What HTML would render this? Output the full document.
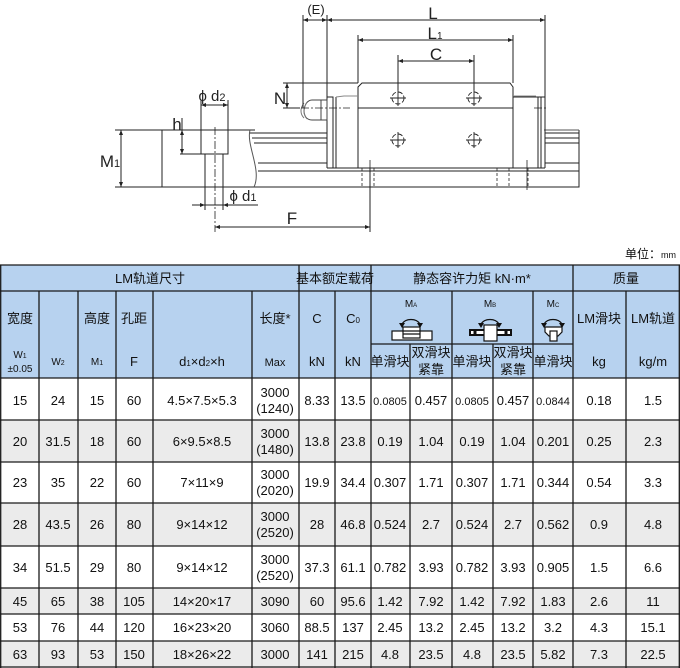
<!DOCTYPE html>
<html><head><meta charset="utf-8"><style>
html,body{margin:0;padding:0;background:#fff;}
svg{display:block;}
text{font-family:"Liberation Sans","Noto Sans CJK SC",sans-serif;fill:#111;}
.t{font-size:13px;text-anchor:middle;}
.s{font-size:10px;text-anchor:middle;}
.d{font-size:17px;text-anchor:middle;fill:#222;}
</style></head><body>
<svg width="680" height="668" viewBox="0 0 680 668" xmlns="http://www.w3.org/2000/svg">
<g stroke="#222" stroke-width="1" fill="none">
 <path d="M255,130 L162,130 L162,187 L579,187 L579,130"/>
 <path d="M250,130 C246,145 262,170 254,187" stroke="#555"/>
 <path d="M250,133 H327 M252,138 H327 M254,143 H327 M258,163 H327 M258,171 H579 M545,133 H579 M545,138 H579 M545,143 H579 M545,163 H579" stroke-width="0.9"/>
 <path d="M544,130 H579" stroke="#555"/>
 <path d="M201,130 V154 H228 V130 M205,154 V187 M223,154 V187"/>
 <path d="M215,127 V232" stroke-dasharray="8,2,2,2" stroke-width="0.8"/>
 <path d="M182,118 V154 M180,154 H201"/>
 <path d="M201,100 V130 M228,100 V130 M201,105 H228"/>
 <path d="M115,130 H162 M115,187 H162 M121,130 V187"/>
 <path d="M205,187 V210 M223,187 V210 M192,205 H258"/>
 <path d="M215,227 H370 M370,168 V232"/>
 <path d="M358,168 V87 L362,83 H510 L513,87 V168 Z"/>
 <path d="M358,108 H513"/>
 <path d="M327,168 V97 H333 V168 M336,97 V168 M327,168 H545 M513,97 H545 V168 M538,97 V168 M541,97 V168"/>
 <path d="M336,97 L344,96 H358 M513,96 H536" stroke="#888"/>
 <path d="M327,120 V125 M545,120 V128"/>
 <path d="M327,100 H312 C303,100 300,120 312,120 H327" stroke="#444"/>
 <path d="M304,103 C300,108 300,114 304,118 M307,102 C303,108 303,114 307,119" stroke="#777"/>
 <rect x="321" y="100" width="6" height="20" stroke="#444"/>
 <path d="M287,108 H350 M534,108 H548" stroke-dasharray="8,2,2,2" stroke-width="0.8"/>
 <path d="M362,168 V187 M374,168 V187 M497,168 V187 M509,168 V187 M528,168 V187" stroke-dasharray="3,2" stroke-width="0.8"/>
 <path d="M370,160 V195 M527,160 V190" stroke-width="0.8"/>
 <path d="M303,15 V108 M327,15 V97 M545,15 V118 M303,20 H545"/>
 <path d="M358,35 V83 M513,35 V83 M358,40 H513"/>
 <path d="M398,55 V90 M474,55 V90 M398,61 H474"/>
 <path d="M283,83 H358 M283,108 H300 M287,83 V108"/>
 <g stroke-width="0.9">
  <circle cx="398" cy="98" r="6" stroke-dasharray="5,2"/><path d="M390,98 H406 M398,90 V106"/>
  <circle cx="474" cy="98" r="6" stroke-dasharray="5,2"/><path d="M466,98 H482 M474,90 V106"/>
  <circle cx="398" cy="140" r="6" stroke-dasharray="5,2"/><path d="M390,140 H406 M398,132 V148"/>
  <circle cx="474" cy="140" r="6" stroke-dasharray="5,2"/><path d="M466,140 H482 M474,132 V148"/>
 </g>
</g>
<g fill="#222">
 <path d="M303,20 l5,-2 v4z M327,20 l-5,-2 v4z M327,20 l5,-2 v4z M545,20 l-5,-2 v4z"/>
 <path d="M358,40 l5,-2 v4z M513,40 l-5,-2 v4z M398,61 l5,-2 v4z M474,61 l-5,-2 v4z"/>
 <path d="M287,83 l-2,5 h4z M287,108 l-2,-5 h4z M121,130 l-2,5 h4z M121,187 l-2,-5 h4z"/>
 <path d="M182,130 l-2,5 h4z M182,154 l-2,-5 h4z M201,105 l5,-2 v4z M228,105 l-5,-2 v4z"/>
 <path d="M205,205 l-5,-2 v4z M223,205 l5,-2 v4z M215,227 l5,-2 v4z M370,227 l-5,-2 v4z"/>
</g>
<text class="d" x="316" y="14" style="font-size:13px">(E)</text>
<text class="d" x="433" y="19">L</text>
<text class="d" x="435" y="39">L<tspan font-size="10">1</tspan></text>
<text class="d" x="436" y="60">C</text>
<text class="d" x="280" y="104">N</text>
<text class="d" x="177" y="130">h</text>
<text class="d" x="212" y="101" style="font-size:15px">ϕ d<tspan font-size="11">2</tspan></text>
<text class="d" x="110" y="167">M<tspan font-size="11">1</tspan></text>
<text class="d" x="243" y="201" style="font-size:15px">ϕ d<tspan font-size="11">1</tspan></text>
<text class="d" x="292" y="224">F</text>
<text x="676" y="258" style="font-size:12px;text-anchor:end">单位：<tspan font-size="9">mm</tspan></text>

<rect x="0" y="265" width="680" height="113" fill="#b7d2ef"/>
<rect x="0" y="378" width="680" height="42" fill="#fff"/>
<rect x="0" y="420" width="680" height="42" fill="#ebebeb"/>
<rect x="0" y="462" width="680" height="41" fill="#fff"/>
<rect x="0" y="503" width="680" height="43" fill="#ebebeb"/>
<rect x="0" y="546" width="680" height="42" fill="#fff"/>
<rect x="0" y="588" width="680" height="26" fill="#ebebeb"/>
<rect x="0" y="614" width="680" height="27" fill="#fff"/>
<rect x="0" y="641" width="680" height="27" fill="#ebebeb"/>
<g stroke="#1a1a1a" stroke-width="1.3">
 <path d="M0,265 H680 M0,291 H680 M0,378 H680 M0,420 H680 M0,462 H680 M0,503 H680 M0,546 H680 M0,588 H680 M0,614 H680 M0,641 H680 M0,667 H680"/>
 <path d="M371,344 H573"/>
 <path d="M0.7,265 V668 M299,265 V668 M371,265 V668 M573,265 V668 M679.3,265 V668"/>
 <path d="M39,291 V668 M78,291 V668 M116,291 V668 M153,291 V668 M252,291 V668 M335,291 V668 M452,291 V668 M533,291 V668 M626,291 V668"/>
 <path d="M410,344 V668 M493,344 V668"/>
</g>
<g class="t">
<text class="t" x="150" y="283">LM轨道尺寸</text>
<text class="t" x="335" y="283">基本额定载荷</text>
<text class="t" x="472" y="283">静态容许力矩 kN·m*</text>
<text class="t" x="626" y="283">质量</text>
<text class="t" x="20" y="323">宽度</text>
<text class="t" x="97" y="323">高度</text>
<text class="t" x="134" y="323">孔距</text>
<text class="t" x="275" y="323">长度*</text>
<text class="t" x="317" y="323">C</text>
<text class="t" x="353" y="323">C<tspan font-size="8">0</tspan></text>
<text class="t" x="599" y="323">LM滑块</text>
<text class="t" x="653" y="323">LM轨道</text>
<text class="s" x="20" y="358">W<tspan font-size="7">1</tspan></text>
<text class="s" x="20" y="372">±0.05</text>
<text class="s" x="58" y="365">W<tspan font-size="7">2</tspan></text>
<text class="s" x="97" y="365">M<tspan font-size="7">1</tspan></text>
<text class="t" x="134" y="366">F</text>
<text class="t" x="202" y="366">d<tspan font-size="8">1</tspan>×d<tspan font-size="8">2</tspan>×h</text>
<text class="s" x="275" y="366" style="font-size:11px">Max</text>
<text class="t" x="317" y="366">kN</text>
<text class="t" x="353" y="366">kN</text>
<text class="t" x="599" y="366">kg</text>
<text class="t" x="653" y="366">kg/m</text>
<text class="t" x="390" y="366">单滑块</text>
<text class="t" x="431" y="357">双滑块</text>
<text class="t" x="431" y="374">紧靠</text>
<text class="t" x="472" y="366">单滑块</text>
<text class="t" x="513" y="357">双滑块</text>
<text class="t" x="513" y="374">紧靠</text>
<text class="t" x="553" y="366">单滑块</text>
<text class="s" x="411" y="307">M<tspan font-size="6">A</tspan></text>
<text class="s" x="490" y="307">M<tspan font-size="6">B</tspan></text>
<text class="s" x="553" y="307">M<tspan font-size="6">C</tspan></text>
</g>
<g stroke="#111" stroke-width="1.3" fill="none">
 <path d="M402,324 A10,8 0 0 1 420,324 M481,324 A10,8 0 0 1 499,324 M544,324 A10,8 0 0 1 562,324"/>
</g>
<g fill="#111">
 <path d="M399,323 l6,0 l-3,5z M417,323 l6,0 l-3,5z M478,323 l6,0 l-3,5z M496,323 l6,0 l-3,5z M541,323 l6,0 l-3,5z M559,323 l6,0 l-3,5z"/>
</g>
<g stroke="#111" stroke-width="1.2" fill="#fff">
 <rect x="392" y="331" width="40" height="9"/>
 <rect x="403" y="327" width="17" height="11"/>
 <path d="M403,331 H420 M403,334 H420" fill="none"/>
 <rect x="470" y="330" width="41" height="5" fill="#fff" stroke-width="2"/>
 <rect x="484" y="325" width="13" height="16"/>
 <path d="M475,330 V335 M506,330 V335" fill="none" stroke-width="3"/>
 <path d="M545,327 H562 V332 L558,336 H549 L545,332 Z"/>
 <rect x="550" y="331" width="7" height="10"/>
</g>
<g class="t" style="font-size:13px">
<text x="20" y="405">15</text><text x="58" y="405">24</text><text x="97" y="405">15</text><text x="134" y="405">60</text><text x="202" y="405">4.5×7.5×5.3</text><text x="275" y="397">3000</text><text x="275" y="413">(1240)</text><text x="317" y="405">8.33</text><text x="353" y="405">13.5</text><text x="390" y="405" style="font-size:11px">0.0805</text><text x="431" y="405">0.457</text><text x="472" y="405" style="font-size:11px">0.0805</text><text x="513" y="405">0.457</text><text x="553" y="405" style="font-size:11px">0.0844</text><text x="599" y="405">0.18</text><text x="653" y="405">1.5</text>
<text x="20" y="446">20</text><text x="58" y="446">31.5</text><text x="97" y="446">18</text><text x="134" y="446">60</text><text x="202" y="446">6×9.5×8.5</text><text x="275" y="438">3000</text><text x="275" y="454">(1480)</text><text x="317" y="446">13.8</text><text x="353" y="446">23.8</text><text x="390" y="446">0.19</text><text x="431" y="446">1.04</text><text x="472" y="446">0.19</text><text x="513" y="446">1.04</text><text x="553" y="446">0.201</text><text x="599" y="446">0.25</text><text x="653" y="446">2.3</text>
<text x="20" y="487">23</text><text x="58" y="487">35</text><text x="97" y="487">22</text><text x="134" y="487">60</text><text x="202" y="487">7×11×9</text><text x="275" y="479">3000</text><text x="275" y="495">(2020)</text><text x="317" y="487">19.9</text><text x="353" y="487">34.4</text><text x="390" y="487">0.307</text><text x="431" y="487">1.71</text><text x="472" y="487">0.307</text><text x="513" y="487">1.71</text><text x="553" y="487">0.344</text><text x="599" y="487">0.54</text><text x="653" y="487">3.3</text>
<text x="20" y="529">28</text><text x="58" y="529">43.5</text><text x="97" y="529">26</text><text x="134" y="529">80</text><text x="202" y="529">9×14×12</text><text x="275" y="521">3000</text><text x="275" y="537">(2520)</text><text x="317" y="529">28</text><text x="353" y="529">46.8</text><text x="390" y="529">0.524</text><text x="431" y="529">2.7</text><text x="472" y="529">0.524</text><text x="513" y="529">2.7</text><text x="553" y="529">0.562</text><text x="599" y="529">0.9</text><text x="653" y="529">4.8</text>
<text x="20" y="572">34</text><text x="58" y="572">51.5</text><text x="97" y="572">29</text><text x="134" y="572">80</text><text x="202" y="572">9×14×12</text><text x="275" y="564">3000</text><text x="275" y="580">(2520)</text><text x="317" y="572">37.3</text><text x="353" y="572">61.1</text><text x="390" y="572">0.782</text><text x="431" y="572">3.93</text><text x="472" y="572">0.782</text><text x="513" y="572">3.93</text><text x="553" y="572">0.905</text><text x="599" y="572">1.5</text><text x="653" y="572">6.6</text>
<text x="20" y="606">45</text><text x="58" y="606">65</text><text x="97" y="606">38</text><text x="134" y="606">105</text><text x="202" y="606">14×20×17</text><text x="275" y="606">3090</text><text x="317" y="606">60</text><text x="353" y="606">95.6</text><text x="390" y="606">1.42</text><text x="431" y="606">7.92</text><text x="472" y="606">1.42</text><text x="513" y="606">7.92</text><text x="553" y="606">1.83</text><text x="599" y="606">2.6</text><text x="653" y="606">11</text>
<text x="20" y="632">53</text><text x="58" y="632">76</text><text x="97" y="632">44</text><text x="134" y="632">120</text><text x="202" y="632">16×23×20</text><text x="275" y="632">3060</text><text x="317" y="632">88.5</text><text x="353" y="632">137</text><text x="390" y="632">2.45</text><text x="431" y="632">13.2</text><text x="472" y="632">2.45</text><text x="513" y="632">13.2</text><text x="553" y="632">3.2</text><text x="599" y="632">4.3</text><text x="653" y="632">15.1</text>
<text x="20" y="659">63</text><text x="58" y="659">93</text><text x="97" y="659">53</text><text x="134" y="659">150</text><text x="202" y="659">18×26×22</text><text x="275" y="659">3000</text><text x="317" y="659">141</text><text x="353" y="659">215</text><text x="390" y="659">4.8</text><text x="431" y="659">23.5</text><text x="472" y="659">4.8</text><text x="513" y="659">23.5</text><text x="553" y="659">5.82</text><text x="599" y="659">7.3</text><text x="653" y="659">22.5</text>
</g>
</svg>
</body></html>
